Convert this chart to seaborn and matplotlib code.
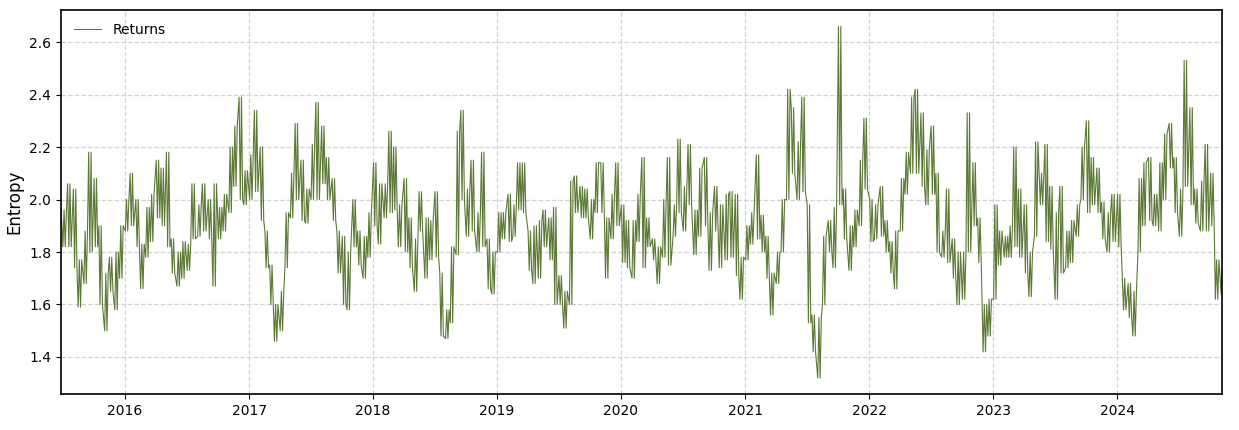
import numpy as np
import pandas as pd
import matplotlib
matplotlib.use("Agg")
import matplotlib.pyplot as plt
import matplotlib.dates as mdates
import seaborn as sns

# Semi-monthly periods starting 2015-06-15; low / high of entropy
period_start = "2015-06-15"
entropy_low = [
    1.72, 1.82, 1.82, 1.74, 1.59, 1.68, 1.80, 1.82, 1.60, 1.50,
    1.65, 1.58, 1.70, 1.88, 1.90, 1.82, 1.66, 1.78, 1.84, 1.93,
    1.90, 1.82, 1.72, 1.67, 1.70, 1.73, 1.85, 1.86, 1.88, 1.85,
    1.67, 1.85, 1.88, 1.95, 2.05, 2.00, 1.98, 2.00, 2.03, 1.92,
    1.74, 1.60, 1.46, 1.50, 1.74, 1.93, 2.00, 1.92, 1.91, 2.00,
    2.00, 2.06, 2.00, 1.92, 1.72, 1.60, 1.58, 1.82, 1.75, 1.70,
    1.78, 1.90, 1.83, 1.93, 1.95, 1.96, 1.82, 1.80, 1.74, 1.65,
    1.88, 1.70, 1.77, 1.78, 1.48, 1.47, 1.53, 1.79, 2.00, 1.86,
    1.88, 1.80, 1.82, 1.66, 1.64, 1.80, 1.85, 1.84, 1.86, 1.96,
    1.95, 1.73, 1.68, 1.70, 1.82, 1.77, 1.60, 1.60, 1.51, 1.60,
    1.95, 1.93, 1.93, 1.85, 1.95, 1.95, 1.70, 1.85, 1.90, 1.76,
    1.74, 1.70, 1.84, 1.74, 1.82, 1.77, 1.68, 1.78, 1.75, 1.86,
    1.95, 1.88, 1.98, 1.79, 1.86, 1.90, 1.73, 1.88, 1.74, 1.77,
    1.78, 1.71, 1.62, 1.77, 1.83, 1.85, 1.80, 1.70, 1.56, 1.68,
    1.80, 2.00, 2.10, 2.00, 2.03, 1.53, 1.42, 1.32, 1.60, 1.80,
    1.74, 1.98, 1.85, 1.73, 1.82, 1.90, 2.04, 1.84, 1.85, 1.86,
    1.80, 1.72, 1.66, 1.88, 2.02, 2.10, 2.10, 2.05, 1.98, 2.02,
    1.80, 1.78, 1.76, 1.70, 1.60, 1.62, 1.80, 1.90, 1.76, 1.42,
    1.48, 1.62, 1.75, 1.78, 1.78, 1.82, 1.78, 1.72, 1.63, 1.86,
    1.98, 1.84, 1.81, 1.62, 1.72, 1.74, 1.76, 1.86, 2.00, 1.95,
    1.98, 1.95, 1.85, 1.80, 1.84, 1.82, 1.58, 1.55, 1.48, 1.80,
    1.90, 1.92, 1.90, 1.88, 2.00, 2.12, 1.95, 1.86, 2.05, 1.98,
    1.91, 1.88, 1.88, 1.90, 1.62, 1.64,
]
entropy_high = [
    1.97, 1.96, 2.06, 2.04, 1.77, 1.88, 2.18, 2.08, 1.90, 1.72,
    1.78, 1.80, 1.90, 2.00, 2.10, 2.00, 1.83, 1.97, 2.02, 2.15,
    2.12, 2.18, 1.85, 1.80, 1.84, 1.83, 2.06, 1.98, 2.06, 2.00,
    2.06, 1.97, 2.02, 2.20, 2.28, 2.39, 2.11, 2.17, 2.34, 2.20,
    1.88, 1.75, 1.60, 1.65, 1.95, 2.10, 2.29, 2.15, 2.04, 2.21,
    2.37, 2.28, 2.16, 2.08, 1.88, 1.86, 1.80, 2.00, 1.88, 1.86,
    1.95, 2.14, 2.06, 2.06, 2.26, 2.20, 1.98, 2.08, 1.93, 1.85,
    2.03, 1.93, 1.92, 2.03, 1.72, 1.58, 1.82, 2.26, 2.34, 2.04,
    2.15, 1.95, 2.18, 1.85, 1.80, 1.95, 1.95, 2.02, 1.98, 2.14,
    2.14, 1.88, 1.90, 1.92, 1.96, 1.93, 1.97, 1.71, 1.65, 2.07,
    2.09, 2.05, 2.04, 2.00, 2.14, 2.14, 1.93, 2.02, 2.14, 1.98,
    1.92, 1.92, 2.02, 2.16, 1.93, 1.85, 1.82, 2.00, 2.16, 1.98,
    2.23, 2.05, 2.21, 1.96, 2.12, 2.16, 1.95, 2.05, 1.98, 2.02,
    2.03, 2.02, 1.78, 1.90, 1.95, 2.17, 1.94, 1.86, 1.72, 1.80,
    2.00, 2.42, 2.35, 2.22, 2.39, 1.98, 1.56, 1.55, 1.86, 1.92,
    1.97, 2.66, 2.04, 1.90, 1.96, 2.15, 2.31, 2.00, 1.98, 2.05,
    1.92, 1.84, 1.88, 2.08, 2.18, 2.39, 2.42, 2.33, 2.19, 2.28,
    2.10, 1.88, 2.04, 1.85, 1.80, 1.80, 2.33, 2.14, 1.93, 1.60,
    1.62, 1.98, 1.88, 1.86, 1.90, 2.20, 2.04, 1.98, 1.80, 2.22,
    2.10, 2.21, 2.05, 1.95, 2.05, 1.88, 1.92, 1.98, 2.20, 2.30,
    2.16, 2.12, 1.99, 1.95, 2.02, 2.02, 1.70, 1.68, 1.65, 2.08,
    2.14, 2.16, 2.02, 2.14, 2.25, 2.29, 2.16, 2.04, 2.53, 2.35,
    2.04, 2.07, 2.21, 2.10, 1.77, 1.76,
]
year_ticks = [2016, 2017, 2018, 2019, 2020, 2021, 2022, 2023, 2024]
y_ticks = [1.4, 1.6, 1.8, 2.0, 2.2, 2.4, 2.6]

# Build the line table: each period contributes its low and high readings,
# alternating inside the period, ordered to follow the direction of the next period.
starts = pd.date_range(period_start, periods=len(entropy_low), freq="SMS")
lo = np.array(entropy_low)
hi = np.array(entropy_high)
mid = (lo + hi) / 2
dates, vals = [], []
offsets = [1.5, 5.0, 8.5, 12.0]
for i, s in enumerate(starts):
    nxt = mid[i + 1] if i + 1 < len(mid) else mid[i]
    a, b = (lo[i], hi[i]) if nxt >= mid[i] else (hi[i], lo[i])
    for k, off in enumerate(offsets):
        dates.append(s + pd.Timedelta(days=off))
        vals.append(a if k % 2 == 0 else b)
df = pd.DataFrame({"Date": dates, "Entropy": vals})

sns.set_style("white")
plt.rcParams["font.family"] = ["DejaVu Sans"]
plt.rcParams.update({"text.color": "black", "axes.labelcolor": "black",
                     "xtick.color": "black", "ytick.color": "black"})

fig, ax = plt.subplots(figsize=(12.39, 4.30), dpi=100)
fig.subplots_adjust(left=61 / 1239, right=1222 / 1239, top=1 - 10 / 430, bottom=1 - 394 / 430)

sns.lineplot(data=df, x="Date", y="Entropy", ax=ax, color="#5b7a35",
             linewidth=0.8, label="Returns", estimator=None, sort=False)

ax.set_xlim(pd.Timestamp("2015-06-27"), pd.Timestamp("2024-11-05"))
ax.set_ylim(1.259, 2.722)
ax.set_yticks(y_ticks)
ax.set_yticklabels([f"{v:.1f}" for v in y_ticks])
ax.set_xticks([pd.Timestamp(f"{y}-01-01") for y in year_ticks])
ax.xaxis.set_major_formatter(mdates.DateFormatter("%Y"))
ax.tick_params(axis="both", labelsize=10, length=3.5, width=0.8, direction="out",
               bottom=True, left=True, colors="black")
ax.set_xlabel("")
ax.set_ylabel("Entropy", fontsize=12, color="black")
ax.grid(True, linestyle="--", color="#d3d3d3", linewidth=0.9)
for sp in ax.spines.values():
    sp.set_color("black")
    sp.set_linewidth(1.2)
leg = ax.legend(loc="upper left", frameon=False, fontsize=10)
for t in leg.get_texts():
    t.set_color("black")

fig.savefig("out.png", dpi=100)
